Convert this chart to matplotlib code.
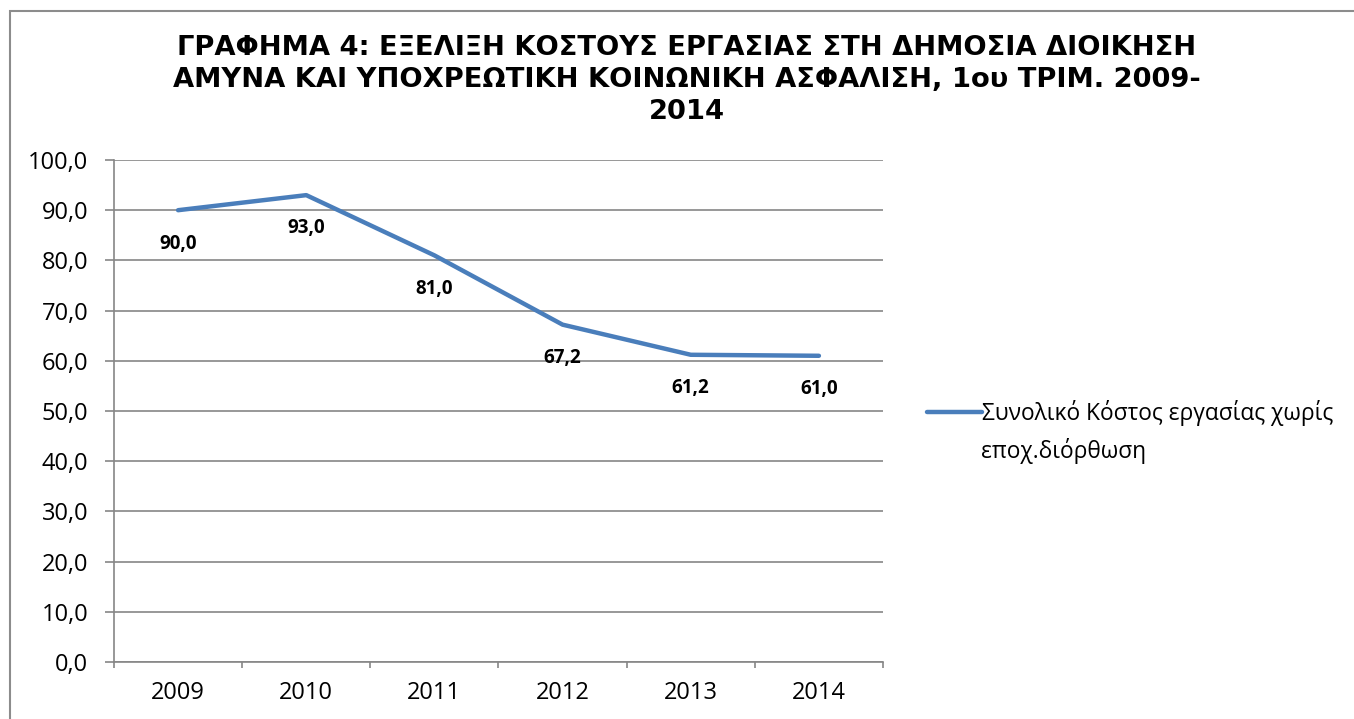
import numpy as np
import matplotlib
matplotlib.use('Agg')
import matplotlib.pyplot as plt
from matplotlib.patches import Rectangle

# Δεδομένα
years = ['2009', '2010', '2011', '2012', '2013', '2014']
values = [90.0, 93.0, 81.0, 67.2, 61.2, 61.0]
series_name = 'Συνολικό Κόστος εργασίας χωρίς'
series_name2 = 'εποχ.διόρθωση'
title = ('ΓΡΑΦΗΜΑ 4: ΕΞΕΛΙΞΗ ΚΟΣΤΟΥΣ ΕΡΓΑΣΙΑΣ ΣΤΗ ΔΗΜΟΣΙΑ ΔΙΟΙΚΗΣΗ\n'
         'ΑΜΥΝΑ ΚΑΙ ΥΠΟΧΡΕΩΤΙΚΗ ΚΟΙΝΩΝΙΚΗ ΑΣΦΑΛΙΣΗ, 1ου ΤΡΙΜ. 2009-\n2014')

grey = '#868686'
blue = '#4A7EBB'
font = ['Open Sans', 'DejaVu Sans']

fig = plt.figure(figsize=(13.54, 7.19), dpi=100)
ax = fig.add_axes([114 / 1354, 57 / 719, 769 / 1354, 502 / 719])

x = np.arange(len(years))
line, = ax.plot(x, values, color=blue, lw=3.2, solid_capstyle='round',
                solid_joinstyle='round', label=series_name)

for xi, v in zip(x, values):
    ax.annotate(f'{v:.1f}'.replace('.', ','), (xi, v), xytext=(0, -24),
                textcoords='offset points', ha='center', va='center',
                fontsize=13.5, fontweight='bold', family=font)

ax.set_xlim(-0.5, len(years) - 0.5)
ax.set_ylim(0, 100)
ax.set_yticks(np.arange(0, 101, 10))
ax.set_yticklabels([f'{t:.1f}'.replace('.', ',') for t in np.arange(0, 101, 10)],
                   family=font, fontsize=17)
ax.set_xticks(np.arange(-0.5, len(years), 1.0))
ax.set_xticklabels([])
ax.set_xticks(x, minor=True)
ax.set_xticklabels(years, minor=True, family=font, fontsize=17)
ax.tick_params(axis='x', which='major', length=4.5, color=grey, width=1.2)
ax.tick_params(axis='x', which='minor', length=0, pad=14)
ax.tick_params(axis='y', length=6.5, color=grey, width=1.2, pad=12)

ax.grid(axis='y', color=grey, lw=1.2)
ax.set_axisbelow(True)
for s in ['top', 'right']:
    ax.spines[s].set_visible(False)
for s in ['left', 'bottom']:
    ax.spines[s].set_color(grey)
    ax.spines[s].set_linewidth(1.2)

fig.text(687 / 1354, 1 - 80 / 719, title, ha='center', va='center',
         fontsize=19.7, fontweight='bold', family=['DejaVu Sans'],
         linespacing=1.31)

leg = fig.legend(handles=[line], loc='center left',
                 bbox_to_anchor=(916 / 1354, 1 - 413 / 719), frameon=False,
                 handlelength=2.4, handletextpad=0.0, borderpad=0,
                 prop={'family': font, 'size': 16.4})
fig.text(981 / 1354, 1 - 451 / 719, series_name2, ha='left', va='center',
         fontsize=16.4, family=font)

fig.patches.append(Rectangle((10 / 1354, -0.1), 1.2, 1 - 11 / 719 + 0.1,
                             transform=fig.transFigure, fill=False,
                             ec='#8c8c8c', lw=1.5))

fig.savefig('out.png', dpi=100)
